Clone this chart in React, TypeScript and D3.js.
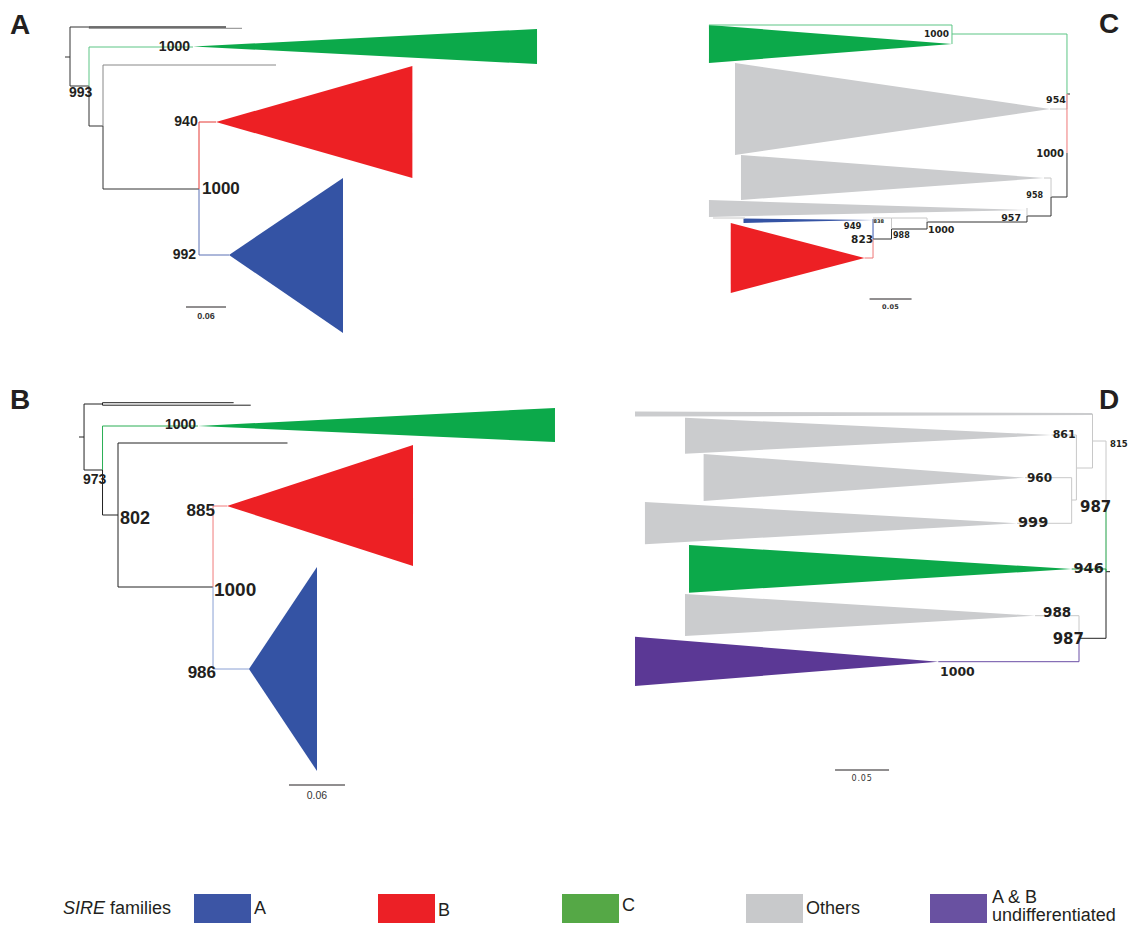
import React from "react";
import * as d3 from "d3";

type TNode = { id: string; parent: string | null; depth: number; y: number; fam: string };
type Clade = { fam: string; apex: number; apexY: number; base: number; top: number; bottom: number; tip?: number };
type Label = { text: string; depth: number; y: number; anchor: string; size: number };
type Frame = { fam: string; d1: number; y1: number; d2: number; y2: number };
type Bar = { value: number; start: number; y: number; labelY: number; text: string };

// ---------- Panel A (branch lengths in substitutions / vertical positions in rows) ----------
const nodesA: TNode[] = [
  { id: "r0", parent: null, depth: 0, y: 57, fam: "k" },
  { id: "root", parent: "r0", depth: 0.0075, y: 57, fam: "k" },
  { id: "n1", parent: "root", depth: 0.036, y: 27, fam: "k" },
  { id: "l2", parent: "n1", depth: 0.2655, y: 28.3, fam: "g" },
  { id: "l1", parent: "n1", depth: 0.2415, y: 27, fam: "d" },
  { id: "n2", parent: "root", depth: 0.036, y: 86, fam: "k" },
  { id: "cC", parent: "n2", depth: 0.192, y: 47, fam: "C" },
  { id: "n3", parent: "n2", depth: 0.057, y: 126, fam: "k" },
  { id: "l3", parent: "n3", depth: 0.3165, y: 65, fam: "g" },
  { id: "n4", parent: "n3", depth: 0.201, y: 189, fam: "k" },
  { id: "cB", parent: "n4", depth: 0.2265, y: 122, fam: "B" },
  { id: "cA", parent: "n4", depth: 0.246, y: 255, fam: "A" },
];
const cladesA: Clade[] = [
  { fam: "C", apex: 0.192, apexY: 46.5, base: 0.708, top: 29, bottom: 64 },
  { fam: "B", apex: 0.2265, apexY: 122, base: 0.521, top: 66, bottom: 178 },
  { fam: "A", apex: 0.246, apexY: 255, base: 0.417, top: 178, bottom: 333 },
];
const labelsA: Label[] = [
  { text: "993", depth: 0.006, y: 92, anchor: "start", size: 14 },
  { text: "1000", depth: 0.1875, y: 45.5, anchor: "end", size: 14 },
  { text: "940", depth: 0.199, y: 121, anchor: "end", size: 14 },
  { text: "1000", depth: 0.2055, y: 188, anchor: "start", size: 17 },
  { text: "992", depth: 0.1965, y: 254, anchor: "end", size: 14 },
];
const barA: Bar = { value: 0.06, start: 0.1815, y: 307, labelY: 316, text: "0.06" };

// ---------- Panel B ----------
const nodesB: TNode[] = [
  { id: "r0", parent: null, depth: 0, y: 67, fam: "k" },
  { id: "root", parent: "r0", depth: 0.0054, y: 67, fam: "k" },
  { id: "n1", parent: "root", depth: 0.0252, y: 34, fam: "k" },
  { id: "l1", parent: "n1", depth: 0.1657, y: 32.7, fam: "k" },
  { id: "l2", parent: "n1", depth: 0.184, y: 35.2, fam: "k" },
  { id: "n2", parent: "root", depth: 0.0252, y: 100, fam: "k" },
  { id: "cC", parent: "n2", depth: 0.1275, y: 56, fam: "C" },
  { id: "n3", parent: "n2", depth: 0.0418, y: 145, fam: "k" },
  { id: "l3", parent: "n3", depth: 0.2234, y: 73, fam: "k" },
  { id: "n4", parent: "n3", depth: 0.1436, y: 217, fam: "k" },
  { id: "cB", parent: "n4", depth: 0.1586, y: 136, fam: "B" },
  { id: "cA", parent: "n4", depth: 0.1821, y: 299, fam: "A" },
];
const cladesB: Clade[] = [
  { fam: "C", apex: 0.1275, apexY: 56, base: 0.51, top: 38, bottom: 72 },
  { fam: "B", apex: 0.1586, apexY: 136, base: 0.3579, top: 75, bottom: 196 },
  { fam: "A", apex: 0.1821, apexY: 299, base: 0.255, top: 197, bottom: 401 },
];
const labelsB: Label[] = [
  { text: "973", depth: 0.0043, y: 109, anchor: "start", size: 14 },
  { text: "1000", depth: 0.1254, y: 54, anchor: "end", size: 14 },
  { text: "802", depth: 0.0439, y: 148, anchor: "start", size: 18 },
  { text: "885", depth: 0.1457, y: 140, anchor: "end", size: 17 },
  { text: "1000", depth: 0.1446, y: 219, anchor: "start", size: 19 },
  { text: "986", depth: 0.1468, y: 302, anchor: "end", size: 17 },
];
const barB: Bar = { value: 0.06, start: 0.225, y: 415, labelY: 425, text: "0.06" };

// ---------- Panel C (root on the right) ----------
const nodesC: TNode[] = [
  { id: "r0", parent: null, depth: 0, y: 94, fam: "k" },
  { id: "root", parent: "r0", depth: 0.0036, y: 94, fam: "k" },
  { id: "cC", parent: "root", depth: 0.1405, y: 34, fam: "C" },
  { id: "o1", parent: "root", depth: 0.0238, y: 109, fam: "g" },
  { id: "n1000", parent: "root", depth: 0.0036, y: 153, fam: "B" },
  { id: "n958", parent: "n1000", depth: 0.0226, y: 197, fam: "k" },
  { id: "o2", parent: "n958", depth: 0.031, y: 178, fam: "g" },
  { id: "n957", parent: "n958", depth: 0.0512, y: 216, fam: "k" },
  { id: "o3", parent: "n957", depth: 0.0512, y: 208, fam: "g" },
  { id: "n1000b", parent: "n957", depth: 0.1702, y: 222, fam: "k" },
  { id: "f1", parent: "n1000b", depth: 0.2125, y: 218, fam: "g" },
  { id: "n988", parent: "n1000b", depth: 0.2125, y: 229, fam: "k" },
  { id: "f2", parent: "n988", depth: 0.2345, y: 218, fam: "g" },
  { id: "n823", parent: "n988", depth: 0.2345, y: 239, fam: "k" },
  { id: "cA", parent: "n823", depth: 0.2345, y: 219, fam: "A" },
  { id: "cB", parent: "n823", depth: 0.2446, y: 258, fam: "B" },
];
const cladesC: Clade[] = [
  { fam: "C", apex: 0.1405, apexY: 44, base: 0.4298, top: 25, bottom: 63 },
  { fam: "O", apex: 0.0238, apexY: 109, base: 0.3988, top: 63, bottom: 155 },
  { fam: "O", apex: 0.031, apexY: 178, base: 0.3917, top: 155, bottom: 200 },
  { fam: "O", apex: 0.0512, apexY: 210, base: 0.4298, top: 200, bottom: 217 },
  { fam: "A", apex: 0.2345, apexY: 220, base: 0.3887, top: 218.5, bottom: 223 },
  { fam: "B", apex: 0.2446, apexY: 258, base: 0.4039, top: 223, bottom: 293 },
];
const framesC: Frame[] = [
  { fam: "C", d1: 0.1405, y1: 25, d2: 0.4298, y2: 25 },
  { fam: "C", d1: 0.1405, y1: 25, d2: 0.1405, y2: 44 },
  { fam: "g", d1: 0.425, y1: 218, d2: 0.387, y2: 218 },
];
const labelsC: Label[] = [
  { text: "1000", depth: 0.144, y: 34, anchor: "end", size: 9 },
  { text: "954", depth: 0.0048, y: 99, anchor: "end", size: 9.5 },
  { text: "1000", depth: 0.0071, y: 153, anchor: "end", size: 10 },
  { text: "958", depth: 0.0321, y: 195, anchor: "end", size: 8 },
  { text: "957", depth: 0.0583, y: 217, anchor: "end", size: 9.5 },
  { text: "1000", depth: 0.169, y: 229.5, anchor: "start", size: 9.5 },
  { text: "988", depth: 0.2107, y: 235, anchor: "start", size: 8 },
  { text: "838", depth: 0.2338, y: 221, anchor: "start", size: 5 },
  { text: "823", depth: 0.2345, y: 239, anchor: "end", size: 10.5 },
  { text: "949", depth: 0.2482, y: 226, anchor: "end", size: 8.5 },
];
const barC: Bar = { value: 0.05, start: 0.1886, y: 299, labelY: 307, text: "0.05" };

// ---------- Panel D (root on the right) ----------
const nodesD: TNode[] = [
  { id: "r0", parent: null, depth: 0, y: 181.7, fam: "k" },
  { id: "root", parent: "r0", depth: 0.0037, y: 181.7, fam: "k" },
  { id: "n987", parent: "root", depth: 0.0037, y: 115, fam: "C" },
  { id: "n815", parent: "n987", depth: 0.0162, y: 51, fam: "g" },
  { id: "o0", parent: "n815", depth: 0.0165, y: 24, fam: "g" },
  { id: "n1076", parent: "n815", depth: 0.0311, y: 78, fam: "g" },
  { id: "o861", parent: "n1076", depth: 0.0541, y: 45, fam: "g" },
  { id: "n1071", parent: "n1076", depth: 0.0355, y: 110, fam: "g" },
  { id: "o960", parent: "n1071", depth: 0.0787, y: 87.7, fam: "g" },
  { id: "o999", parent: "n1071", depth: 0.0861, y: 133.3, fam: "g" },
  { id: "cC", parent: "root", depth: 0.0355, y: 179, fam: "C" },
  { id: "n987b", parent: "root", depth: 0.0287, y: 248.3, fam: "k" },
  { id: "o988", parent: "n987b", depth: 0.0694, y: 225.7, fam: "g" },
  { id: "cAB", parent: "n987b", depth: 0.159, y: 271.7, fam: "AB" },
];
const cladesD: Clade[] = [
  { fam: "O", apex: 0.0165, apexY: 24, base: 0.4398, top: 21.6, bottom: 26.6, tip: 1.1 },
  { fam: "O", apex: 0.0541, apexY: 45, base: 0.3935, top: 27.7, bottom: 63.7 },
  { fam: "O", apex: 0.0787, apexY: 87.7, base: 0.3763, top: 64, bottom: 111 },
  { fam: "O", apex: 0.0861, apexY: 133.3, base: 0.4306, top: 112, bottom: 154.3 },
  { fam: "C", apex: 0.0355, apexY: 179, base: 0.3898, top: 155, bottom: 202.7 },
  { fam: "O", apex: 0.0694, apexY: 225.7, base: 0.3935, top: 204, bottom: 246 },
  { fam: "AB", apex: 0.159, apexY: 271.7, base: 0.4398, top: 246.7, bottom: 296 },
];
const labelsD: Label[] = [
  { text: "861", depth: 0.0531, y: 44, anchor: "start", size: 11 },
  { text: "815", depth: 0, y: 54, anchor: "start", size: 8.5 },
  { text: "987", depth: 0.0278, y: 116.7, anchor: "start", size: 15 },
  { text: "960", depth: 0.0769, y: 87.7, anchor: "start", size: 12 },
  { text: "999", depth: 0.0852, y: 132, anchor: "start", size: 14.5 },
  { text: "946", depth: 0.0338, y: 177.7, anchor: "start", size: 14.5 },
  { text: "988", depth: 0.062, y: 222, anchor: "start", size: 13.5 },
  { text: "987", depth: 0.0531, y: 249.3, anchor: "start", size: 15 },
  { text: "1000", depth: 0.1574, y: 281, anchor: "start", size: 12.5 },
];
const barD: Bar = { value: 0.05, start: 0.2046, y: 380, labelY: 388.3, text: "0.05" };

// ---------- Legend ----------
const legendTitle = "families";
const legendKeys = ["A", "B", "C", "Others", "A & B|undifferentiated"];
const legendFams = ["A", "B", "C", "O", "AB"];

// ---------- Styles ----------
const FILL: Record<string, string> = { A: "#3453a4", B: "#ed2024", C: "#0ca94a", O: "#cbccce", AB: "#5b3895" };
const LEGEND_FILL: Record<string, string> = { A: "#3c55a5", B: "#ec2026", C: "#55a846", O: "#c8c9cb", AB: "#6951a1" };
const FONT_NARROW = "'Liberation Sans Narrow','Arial Narrow','Liberation Sans',Arial,sans-serif";
const FONT_WIDE = "'DejaVu Sans',Verdana,sans-serif";
const FONT_SANS = "'Liberation Sans',Arial,Helvetica,sans-serif";

type PanelCfg = {
  letter: string; letterX: number; letterY: number;
  nodes: TNode[]; clades: Clade[]; labels: Label[]; frames: Frame[]; bar: Bar;
  x0: number; ppu: number; dir: number; y0: number;
  links: Record<string, string>; font: string; barFont: string; barSize: number; barWeight: string; barSpacing: number;
};

const PANELS: PanelCfg[] = [
  {
    letter: "A", letterX: 10, letterY: 34, nodes: nodesA, clades: cladesA, labels: labelsA, frames: [], bar: barA,
    x0: 65, ppu: 666.7, dir: 1, y0: 0,
    links: { k: "#333", d: "#444", g: "#888", C: "#5cc585", B: "#e53935", A: "#5a70b5" },
    font: FONT_NARROW, barFont: FONT_NARROW, barSize: 9, barWeight: "bold", barSpacing: 0,
  },
  {
    letter: "B", letterX: 10, letterY: 409, nodes: nodesB, clades: cladesB, labels: labelsB, frames: [], bar: barB,
    x0: 79, ppu: 933.3, dir: 1, y0: 370,
    links: { k: "#222", g: "#555", C: "#2aae55", B: "#f07a7a", A: "#8aa0d4" },
    font: FONT_NARROW, barFont: FONT_SANS, barSize: 10.5, barWeight: "normal", barSpacing: 0,
  },
  {
    letter: "C", letterX: 1099, letterY: 33, nodes: nodesC, clades: cladesC, labels: labelsC, frames: framesC, bar: barC,
    x0: 1070, ppu: 840, dir: -1, y0: 0,
    links: { k: "#333", g: "#c8c8c8", C: "#5cc585", B: "#ee7777", A: "#3a58b0" },
    font: FONT_WIDE, barFont: FONT_WIDE, barSize: 6.5, barWeight: "bold", barSpacing: 0.3,
  },
  {
    letter: "D", letterX: 1099, letterY: 409, nodes: nodesD, clades: cladesD, labels: labelsD, frames: [], bar: barD,
    x0: 1110, ppu: 1080, dir: -1, y0: 390,
    links: { k: "#222", g: "#c8c8c8", C: "#1e9e45", AB: "#6a4ea6" },
    font: FONT_WIDE, barFont: FONT_WIDE, barSize: 8, barWeight: "normal", barSpacing: 0.8,
  },
];

function TreePanel({ p }: { p: PanelCfg }) {
  const x = d3.scaleLinear().domain([0, 1]).range([p.x0, p.x0 + p.dir * p.ppu]);
  const y = d3.scaleLinear().domain([0, 1000]).range([p.y0, p.y0 + 1000]);
  const byId = new Map(p.nodes.map((n) => [n.id, n]));

  const triPath = (c: Clade) => {
    const t = c.tip || 0;
    const path = d3.path();
    path.moveTo(x(c.apex), y(c.apexY - t));
    path.lineTo(x(c.base), y(c.top));
    path.lineTo(x(c.base), y(c.bottom));
    path.lineTo(x(c.apex), y(c.apexY + t));
    path.closePath();
    return path.toString();
  };
  const linkPath = (n: TNode) => {
    const par = byId.get(n.parent as string)!;
    const path = d3.path();
    path.moveTo(x(par.depth), y(par.y));
    path.lineTo(x(par.depth), y(n.y));
    path.lineTo(x(n.depth), y(n.y));
    return path.toString();
  };

  return (
    <g>
      {p.clades.map((c, i) => (
        <path key={"t" + i} d={triPath(c)} fill={FILL[c.fam]} stroke="none" />
      ))}
      {p.frames.map((f, i) => (
        <line key={"f" + i} x1={x(f.d1)} y1={y(f.y1)} x2={x(f.d2)} y2={y(f.y2)}
          stroke={p.links[f.fam]} strokeWidth={1} />
      ))}
      {p.nodes.filter((n) => n.parent).map((n) => (
        <path key={n.id} d={linkPath(n)} fill="none" stroke={p.links[n.fam]} strokeWidth={n.fam === "d" ? 1.6 : 1} />
      ))}
      {p.labels.map((l, i) => (
        <text key={"l" + i} x={x(l.depth)} y={y(l.y)} textAnchor={l.anchor as any} dominantBaseline="central"
          fontFamily={p.font} fontWeight="bold" fontSize={l.size} fill="#231f20">
          {l.text}
        </text>
      ))}
      <line x1={x(p.bar.start)} x2={x(p.bar.start + p.bar.value)} y1={y(p.bar.y)} y2={y(p.bar.y)}
        stroke="#231f20" strokeWidth={1} />
      <text x={x(p.bar.start + p.bar.value / 2)} y={y(p.bar.labelY)} textAnchor="middle" dominantBaseline="central"
        fontFamily={p.barFont} fontSize={p.barSize} fontWeight={p.barWeight} letterSpacing={p.barSpacing} fill="#333">
        {p.bar.text}
      </text>
      <text x={p.letterX} y={p.letterY} fontFamily={FONT_SANS} fontWeight="bold" fontSize={28} fill="#231f20">
        {p.letter}
      </text>
    </g>
  );
}

function Legend() {
  const lx = d3.scaleLinear().domain([0, legendKeys.length - 1]).range([194, 930]);
  const dys = [0, 2, -3, 0, 0];
  return (
    <g fontFamily={FONT_SANS} fontSize={18} fill="#231f20">
      <text x={63} y={914}>
        <tspan fontStyle="italic">SIRE</tspan> {legendTitle}
      </text>
      {legendKeys.map((k, i) => {
        const bx = lx(i);
        const parts = k.split("|");
        return (
          <g key={k}>
            <rect x={bx} y={894} width={57} height={29} fill={LEGEND_FILL[legendFams[i]]} />
            {parts.length === 1 ? (
              <text x={bx + 60} y={914 + dys[i]}>{parts[0]}</text>
            ) : (
              <>
                <text x={bx + 62} y={903}>{parts[0]}</text>
                <text x={bx + 62} y={921}>{parts[1]}</text>
              </>
            )}
          </g>
        );
      })}
    </g>
  );
}

export default function App() {
  return (
    <svg width={1133} height={927} style={{ position: "absolute", left: 0, top: 0, background: "#fff" }}>
      <rect width={1133} height={927} fill="#fff" />
      {PANELS.map((p) => (
        <TreePanel key={p.letter} p={p} />
      ))}
      <Legend />
    </svg>
  );
}
